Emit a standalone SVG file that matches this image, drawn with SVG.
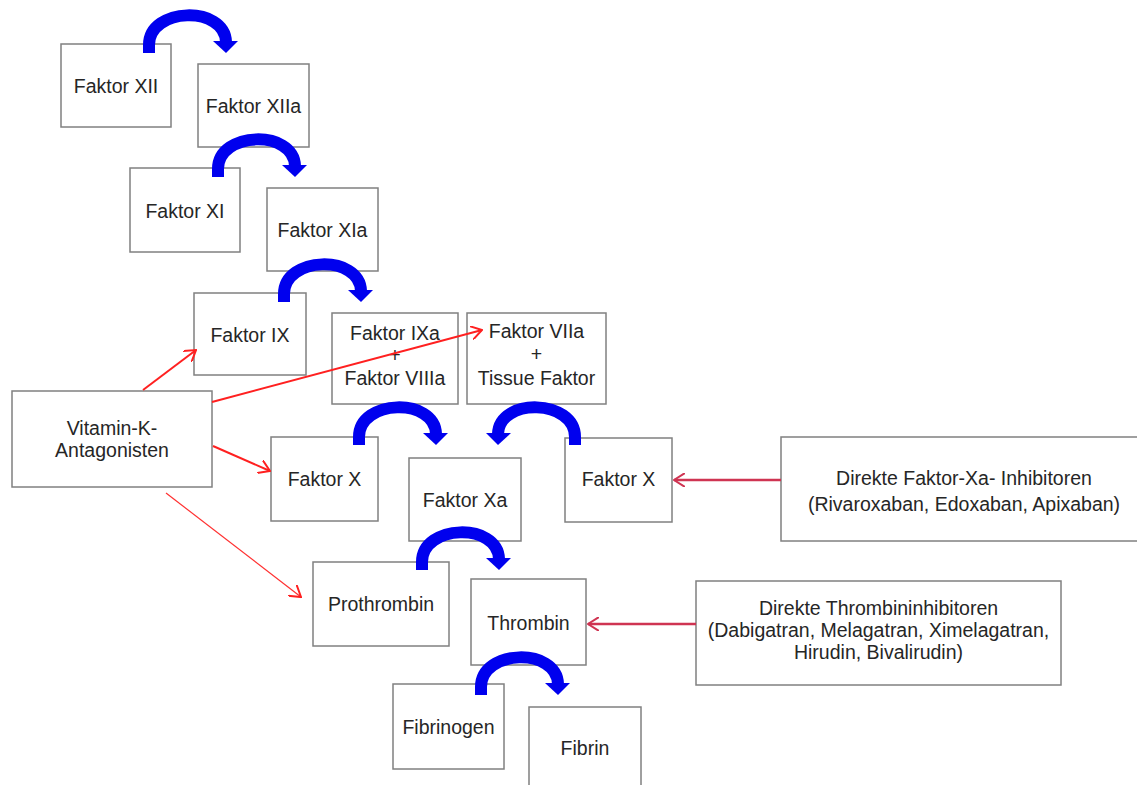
<svg xmlns="http://www.w3.org/2000/svg" xmlns:xlink="http://www.w3.org/1999/xlink" width="1137" height="785" viewBox="0 0 1137 785">
<style>
.box{fill:#fff;stroke:#808080;stroke-width:1.5}
.t{font-family:"Liberation Sans",Arial,sans-serif;font-size:19.5px;fill:#262626;text-anchor:middle}
.red{fill:none;stroke:#ff2020;stroke-width:2}
.red2{fill:none;stroke:#ff3030;stroke-width:1.2}
.inh{fill:none;stroke:#cf3452;stroke-width:2.5}
</style>
<defs>
<marker id="ah" viewBox="0 0 12 14" refX="11" refY="7" markerWidth="12" markerHeight="14" markerUnits="userSpaceOnUse" orient="auto">
<path d="M0,0 L11,7 L0,14" fill="none" stroke="#ff2020" stroke-width="2"/>
</marker>
<marker id="ah2" viewBox="0 0 12 14" refX="11" refY="7" markerWidth="12" markerHeight="14" markerUnits="userSpaceOnUse" orient="auto">
<path d="M0,0 L11,7 L0,14" fill="none" stroke="#cf3452" stroke-width="2"/>
</marker>
<g id="curl">
<path d="M0,0 V-8 C0,-46 76,-48 77,-11" fill="none" stroke="#0000ee" stroke-width="12"/>
<polygon points="64,-12 89,-12 77,0" fill="#0000ee"/>
</g>
</defs>
<rect width="1137" height="785" fill="#fff"/>
<g id="n-xii"><rect class="box" x="61" y="44" width="110" height="83"/><text class="t" x="116" y="93">Faktor XII</text></g>
<g id="n-xiia"><rect class="box" x="198" y="64" width="111" height="83"/><text class="t" x="253.5" y="113">Faktor XIIa</text></g>
<g id="n-xi"><rect class="box" x="130" y="168" width="110" height="84"/><text class="t" x="185" y="218">Faktor XI</text></g>
<g id="n-xia"><rect class="box" x="267" y="188" width="111" height="83"/><text class="t" x="322.5" y="237">Faktor XIa</text></g>
<g id="n-ix"><rect class="box" x="194" y="293" width="112" height="82"/><text class="t" x="250" y="342">Faktor IX</text></g>
<g id="n-ixa"><rect class="box" x="332" y="313" width="126" height="91"/><text class="t" x="395" y="340">Faktor IXa</text><text class="t" x="395" y="362">+</text><text class="t" x="395" y="385">Faktor VIIIa</text></g>
<g id="n-viia"><rect class="box" x="467" y="313" width="139" height="91"/><text class="t" x="536.5" y="338">Faktor VIIa</text><text class="t" x="536.5" y="361">+</text><text class="t" x="536.5" y="385">Tissue Faktor</text></g>
<g id="n-vk"><rect class="box" x="12" y="391" width="200" height="96"/><text class="t" x="112" y="435">Vitamin-K-</text><text class="t" x="112" y="457">Antagonisten</text></g>
<g id="n-x1"><rect class="box" x="271" y="437" width="107" height="84"/><text class="t" x="324.5" y="486">Faktor X</text></g>
<g id="n-xa"><rect class="box" x="409" y="458" width="112" height="83"/><text class="t" x="465" y="507">Faktor Xa</text></g>
<g id="n-x2"><rect class="box" x="565" y="438" width="107" height="84"/><text class="t" x="618.5" y="486">Faktor X</text></g>
<g id="n-dxa"><rect class="box" x="781" y="437" width="370" height="104"/><text class="t" x="964" y="485">Direkte Faktor-Xa- Inhibitoren</text><text class="t" x="964" y="511">(Rivaroxaban, Edoxaban, Apixaban)</text></g>
<g id="n-pro"><rect class="box" x="313" y="562" width="136" height="84"/><text class="t" x="381" y="611">Prothrombin</text></g>
<g id="n-thr"><rect class="box" x="471" y="579" width="115" height="86"/><text class="t" x="528.5" y="630">Thrombin</text></g>
<g id="n-dti"><rect class="box" x="696" y="581" width="365" height="104"/><text class="t" x="878.5" y="615">Direkte Thrombininhibitoren</text><text class="t" x="878.5" y="637">(Dabigatran, Melagatran, Ximelagatran,</text><text class="t" x="878.5" y="659">Hirudin, Bivalirudin)</text></g>
<g id="n-fbg"><rect class="box" x="393" y="684" width="111" height="85"/><text class="t" x="448.5" y="734">Fibrinogen</text></g>
<g id="n-fib"><rect class="box" x="529" y="707" width="112" height="95"/><text class="t" x="585" y="755">Fibrin</text></g>
<g id="connectors">
<use xlink:href="#curl" href="#curl" transform="translate(149,53)"/>
<use xlink:href="#curl" href="#curl" transform="translate(218,177)"/>
<use xlink:href="#curl" href="#curl" transform="translate(284,302)"/>
<use xlink:href="#curl" href="#curl" transform="translate(359,445)"/>
<use xlink:href="#curl" href="#curl" transform="translate(575,445) scale(-1,1)"/>
<use xlink:href="#curl" href="#curl" transform="translate(422,570)"/>
<use xlink:href="#curl" href="#curl" transform="translate(481,695)"/>
<line class="red" x1="143" y1="390" x2="196" y2="350" marker-end="url(#ah)"/>
<line class="red" x1="212" y1="402" x2="482" y2="330" marker-end="url(#ah)"/>
<line class="red" x1="213" y1="446" x2="270" y2="471" marker-end="url(#ah)"/>
<line class="red2" x1="166" y1="493" x2="301" y2="597" marker-end="url(#ah)"/>
<line class="inh" x1="781" y1="480" x2="674" y2="480" marker-end="url(#ah2)"/>
<line class="inh" x1="696" y1="624" x2="588" y2="624" marker-end="url(#ah2)"/>
</g>
</svg>
